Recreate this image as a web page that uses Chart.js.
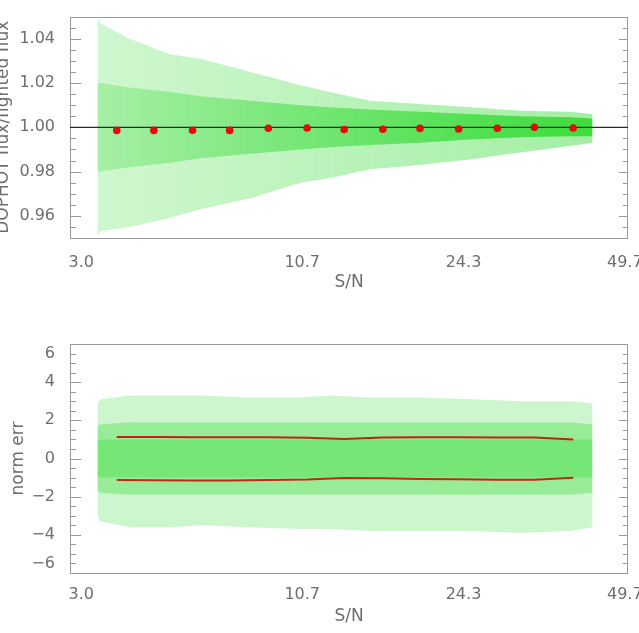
<!DOCTYPE html>
<html>
<head>
<meta charset="utf-8">
<script src="https://cdn.jsdelivr.net/npm/chart.js@4.4.1/dist/chart.umd.min.js"></script>
<style>
  html, body { margin: 0; padding: 0; background: #fff; }
  body { width: 639px; height: 633px; position: relative; overflow: hidden; }
  canvas { position: absolute; left: 0; }
  #top { top: 0; }
  #bottom { top: 300px; }
</style>
</head>
<body>
<canvas id="top" width="639" height="300"></canvas>
<canvas id="bottom" width="639" height="333"></canvas>
<script>
// x axis is linear in (magnitude-like) position, brighter to the right; labels give S/N
const xRange = [16.98, 20.44];
const snTickPos = [20.37, 19.0, 18.0, 17.0];
const snTickLabels = ['3.0', '10.7', '24.3', '49.7'];

// binned values (red dots / red lines)
const binPos = [20.15, 19.92, 19.68, 19.45, 19.21, 18.97, 18.74, 18.50, 18.27, 18.03, 17.79, 17.56, 17.32];
const fluxRatioMedian = [0.9986, 0.9986, 0.9987, 0.9986, 0.9996, 0.9997, 0.9990, 0.9991, 0.9995, 0.9992, 0.9996, 1.0000, 0.9997];
const normErrUpper = [1.13, 1.13, 1.12, 1.12, 1.11, 1.09, 1.02, 1.10, 1.11, 1.11, 1.10, 1.10, 1.00];
const normErrLower = [-1.13, -1.14, -1.15, -1.15, -1.13, -1.10, -1.02, -1.04, -1.07, -1.09, -1.11, -1.12, -1.01];

// envelope of the green scatter cloud
const cloudPos = [20.27, 20.25, 20.07, 19.82, 19.63, 19.32, 19.01, 18.83, 18.58, 18.27, 17.96, 17.65, 17.34, 17.20];
const ratioOuterHi = [1.049, 1.047, 1.040, 1.033, 1.031, 1.025, 1.019, 1.016, 1.012, 1.0105, 1.009, 1.0075, 1.007, 1.006];
const ratioOuterLo = [0.951, 0.953, 0.955, 0.959, 0.963, 0.968, 0.975, 0.977, 0.981, 0.983, 0.9855, 0.9886, 0.9916, 0.993];
const ratioCoreHi = [1.020, 1.020, 1.018, 1.016, 1.014, 1.012, 1.010, 1.009, 1.008, 1.007, 1.006, 1.005, 1.0045, 1.004];
const ratioCoreLo = [0.980, 0.980, 0.982, 0.984, 0.986, 0.988, 0.990, 0.991, 0.992, 0.993, 0.9945, 0.9955, 0.996, 0.996];
const errOuterHi = [2.9, 3.1, 3.3, 3.3, 3.3, 3.2, 3.2, 3.3, 3.2, 3.2, 3.1, 3.0, 3.0, 2.9];
const errOuterLo = [-3.0, -3.3, -3.6, -3.6, -3.5, -3.6, -3.7, -3.7, -3.8, -3.8, -3.8, -3.9, -3.8, -3.6];
const errMidHi = [1.7, 1.8, 1.9, 1.9, 1.9, 1.9, 1.9, 1.9, 1.9, 1.9, 1.9, 1.9, 1.9, 1.8];
const errMidLo = [-1.7, -1.8, -1.9, -1.9, -1.9, -1.9, -1.9, -1.9, -1.9, -1.9, -1.9, -1.9, -1.9, -1.8];
const errCoreHi = [0.9, 1.0, 1.0, 1.0, 1.0, 1.0, 1.0, 1.0, 1.0, 1.0, 1.0, 1.0, 1.0, 1.0];
const errCoreLo = [-0.9, -1.0, -1.0, -1.0, -1.0, -1.0, -1.0, -1.0, -1.0, -1.0, -1.0, -1.0, -1.0, -1.0];

Chart.defaults.font.family = 'DejaVu Sans';
Chart.defaults.color = '#6e6e6e';

const pts = (xs, ys) => xs.map((x, i) => ({x: x, y: ys[i]}));

// green fill that gets denser to the right
function greenRamp(a0, a1) {
  return (ctx) => {
    const area = ctx.chart.chartArea;
    if (!area) return 'rgba(30,215,30,' + a0 + ')';
    const g = ctx.chart.ctx.createLinearGradient(area.left, 0, area.right, 0);
    g.addColorStop(0, 'rgba(30,215,30,' + a0 + ')');
    g.addColorStop(1, 'rgba(30,215,30,' + a1 + ')');
    return g;
  };
}

function band(lo, hi, color) {
  return [
    {type: 'line', data: lo, pointRadius: 0, borderWidth: 0, fill: false},
    {type: 'line', data: hi, pointRadius: 0, borderWidth: 0, fill: '-1', backgroundColor: color}
  ];
}

// frame + inward tick marks like the original plot
const frame = {
  id: 'frame',
  beforeDatasetsDraw(chart, args, opts) {
    const {ctx, chartArea: a} = chart;
    const y = chart.scales.y;
    ctx.save();
    ctx.strokeStyle = '#9a9a9a';
    ctx.lineWidth = 1;
    ctx.strokeRect(Math.round(a.left) + 0.5, Math.round(a.top) + 0.5,
                   Math.round(a.right - a.left) - 1, Math.round(a.bottom - a.top));
    ctx.beginPath();
    y.ticks.forEach(t => {
      const py = Math.round(y.getPixelForValue(t.value)) + 0.5;
      const r = t.value / opts.majorStep;
      const major = Math.abs(r - Math.round(r)) < 1e-6;
      ctx.moveTo(a.left, py); ctx.lineTo(a.left + (major ? 11 : 6), py);
      ctx.moveTo(a.right - 0.5, py); ctx.lineTo(a.right - (major ? 9 : 5), py);
    });
    ctx.stroke();
    ctx.restore();
  }
};

function xAxis(height, pad, titlePad) {
  return {
    type: 'linear', reverse: true, min: xRange[0], max: xRange[1],
    grid: {display: false}, border: {display: false},
    afterBuildTicks: (s) => { s.ticks = snTickPos.map(v => ({value: v})); },
    afterFit: (s) => { s.height = height; s.paddingLeft = 0; s.paddingRight = 0; },
    ticks: {
      autoSkip: false, maxRotation: 0, padding: pad, font: {size: 16},
      callback: (v, i) => snTickLabels[i]
    },
    title: {display: true, text: 'S/N', font: {size: 17}, padding: {top: 0, bottom: titlePad}}
  };
}

const common = {
  responsive: false, animation: false, devicePixelRatio: 1, events: [],
  plugins: {legend: {display: false}, tooltip: {enabled: false}}
};

new Chart(document.getElementById('top'), {
  type: 'scatter',
  data: {
    datasets: [
      {data: pts(binPos, fluxRatioMedian), pointRadius: 3.8, pointBorderWidth: 0,
       backgroundColor: 'rgb(225,12,12)'},
      {type: 'line', data: pts(xRange, [1, 1]), pointRadius: 0, borderWidth: 1.3, borderColor: '#2a2a2a'},
      ...band(pts(cloudPos, ratioCoreLo), pts(cloudPos, ratioCoreHi), greenRamp(0.2, 0.8)),
      ...band(pts(cloudPos, ratioOuterLo), pts(cloudPos, ratioOuterHi), greenRamp(0.2, 0.42))
    ]
  },
  options: {
    ...common,
    layout: {padding: {left: 0, right: 11, top: 10, bottom: 0}},
    plugins: {...common.plugins, frame: {majorStep: 0.02}},
    scales: {
      x: xAxis(62, 7, 7),
      y: {
        min: 0.95, max: 1.05,
        grid: {display: false}, border: {display: false},
        afterFit: (s) => { s.width = 70; },
        ticks: {
          stepSize: 0.005, autoSkip: false, padding: 7, font: {size: 16},
          callback: (v) => {
            const r = v / 0.02;
            return Math.abs(r - Math.round(r)) < 1e-6 ? v.toFixed(2) : '';
          }
        },
        title: {display: true, text: 'DOPHOT flux/fighted flux', font: {size: 17}, padding: {top: -7, bottom: 0}}
      }
    }
  },
  plugins: [frame]
});

new Chart(document.getElementById('bottom'), {
  type: 'scatter',
  data: {
    datasets: [
      {type: 'line', data: pts(binPos, normErrUpper), pointRadius: 0, borderWidth: 2, borderColor: 'rgb(200,30,15)'},
      {type: 'line', data: pts(binPos, normErrLower), pointRadius: 0, borderWidth: 2, borderColor: 'rgb(190,40,20)'},
      ...band(pts(cloudPos, errCoreLo), pts(cloudPos, errCoreHi), 'rgba(30,215,30,0.28)'),
      ...band(pts(cloudPos, errMidLo), pts(cloudPos, errMidHi), 'rgba(30,215,30,0.3)'),
      ...band(pts(cloudPos, errOuterLo), pts(cloudPos, errOuterHi), 'rgba(30,215,30,0.22)')
    ]
  },
  options: {
    ...common,
    layout: {padding: {left: 0, right: 11, top: 44, bottom: 0}},
    plugins: {...common.plugins, frame: {majorStep: 2}},
    scales: {
      x: xAxis(60, 4, 6),
      y: {
        min: -6, max: 6,
        grid: {display: false}, border: {display: false},
        afterFit: (s) => { s.width = 70; },
        ticks: {
          stepSize: 0.5, autoSkip: false, padding: 7, font: {size: 16},
          callback: (v) => {
            if (Math.abs(v / 2 - Math.round(v / 2)) > 1e-6) return '';
            const s = v < 0 ? '\u2212' + Math.abs(v) : String(v);
            if (v === 6) return ['', s];
            if (v === -6) return [s, ''];
            return s;
          }
        },
        title: {display: true, text: 'norm err', font: {size: 17}, padding: {top: 8, bottom: 0}}
      }
    }
  },
  plugins: [frame]
});
</script>
</body>
</html>
